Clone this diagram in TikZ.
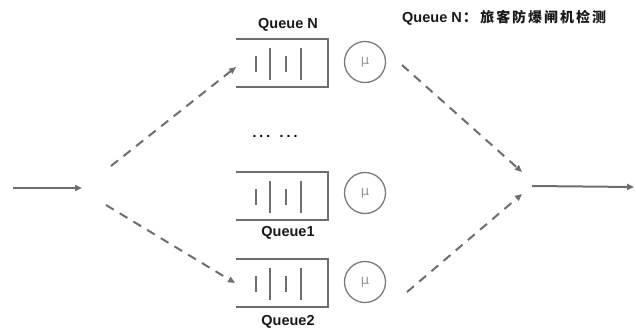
\documentclass[tikz,border=0pt]{standalone}
\usepackage{fontspec}
\setmainfont{Liberation Sans}[BoldFont={Liberation Sans Bold}]
\newfontfamily\cjk{Noto Sans CJK SC}
\newfontfamily\greekfont{DejaVu Sans}
\usetikzlibrary{arrows.meta}
\definecolor{linegray}{HTML}{6E6E6E}
\definecolor{ringgray}{HTML}{7A7A7A}
\tikzset{
  flow/.style={draw=linegray, line width=2pt, -{Triangle[length=7pt,width=6pt]}},
  dflow/.style={flow, dash pattern=on 9pt off 7pt},
  qline/.style={draw=linegray, line width=2pt},
  server/.style={circle, draw=ringgray, line width=1.3pt, minimum size=41pt, inner sep=0pt,
    font=\greekfont\fontsize{13}{13}\selectfont, text=gray!85},
  qlabel/.style={font=\bfseries\fontsize{14.5}{14.5}\selectfont, text=black!90, inner sep=0pt}
}
% open-ended queue buffer with its four slot bars, top-left corner at #1
\newcommand{\qbuffer}[2]{%
  \begin{scope}[shift={(#1,#2)}]
    \draw[qline] (0,0) -- (92,0) -- (92,48) -- (0,48);
    \draw[qline] (20,17) -- (20,33);
    \draw[qline] (34,9) -- (34,41);
    \draw[qline] (50,17) -- (50,33);
    \draw[qline] (65,9) -- (65,41);
  \end{scope}}
\begin{document}
\begin{tikzpicture}[x=1pt,y=-1pt]
  \useasboundingbox (0,0) rectangle (636,332);

  % queue buffers
  \qbuffer{236}{39}
  \qbuffer{236}{172}
  \qbuffer{236}{259}

  % anchors of the buffers' open ends
  \coordinate (qNin) at (236,67);
  \coordinate (q2in) at (235,283);

  % servers
  \node[server] (sN) at (365,62) {μ};
  \node[server] (s1) at (365,193) {μ};
  \node[server] (s2) at (365,282) {μ};

  % labels
  \node[qlabel] (lN) at (288,25) {Queue N};
  \node[qlabel] (l1) at (288,233) {Queue1};
  \node[qlabel] (l2) at (288,322) {Queue2};
  \node[qlabel, anchor=west] (title) at (402,18)
    {Queue N{\cjk\bfseries\hspace{1pt}：\hspace{3pt}}{\cjk\bfseries\fontsize{14}{14}\selectfont\addfontfeature{LetterSpace=14}旅客防爆闸机检测}};
  \node[font=\bfseries\fontsize{14}{14}\selectfont\addfontfeature{LetterSpace=22}, inner sep=0pt] (dots) at (275,136) {... ...};

  % arrival and departure
  \coordinate (inS) at (13,188);
  \coordinate (inE) at (82,188);
  \coordinate (splitN) at (111,166);
  \coordinate (split2) at (106,205);
  \coordinate (joinNs) at (402,65);
  \coordinate (join2s) at (407,292);
  \coordinate (joinE) at (522,172);
  \coordinate (joinE2) at (522,194);
  \coordinate (outS) at (532,186);
  \coordinate (outE) at (634,187);

  \draw[flow] (inS) -- (inE);
  \draw[dflow] (splitN) -- (qNin);
  \draw[dflow] (split2) -- (q2in);
  \draw[dflow] (joinNs) -- (joinE);
  \draw[dflow] (join2s) -- (joinE2);
  \draw[flow] (outS) -- (outE);
\end{tikzpicture}
\end{document}
